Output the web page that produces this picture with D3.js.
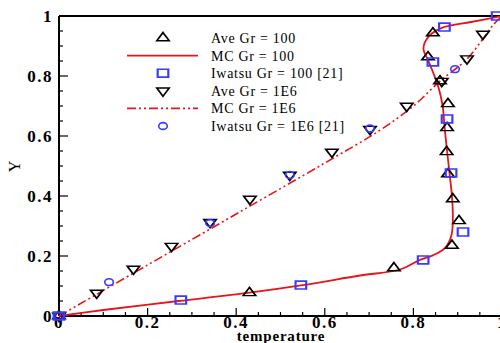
<!DOCTYPE html>
<html>
<head>
<meta charset="utf-8">
<script src="https://cdn.jsdelivr.net/npm/d3@7"></script>
<style>
  body { margin: 0; background: #fff; }
  svg { display: block; }
  .tick-label { font-family: "Liberation Serif", "DejaVu Serif", serif; font-weight: bold; font-size: 17px; letter-spacing: 1.5px; }
  .axis-title { font-family: "Liberation Serif", serif; font-weight: bold; font-size: 15px; letter-spacing: 0.8px; }
  .legend text { font-family: "Liberation Serif", serif; font-size: 14px; letter-spacing: 0.7px; }
</style>
</head>
<body>
<div id="chart"></div>
<script>
// Ave Gr = 100 (up triangles)
var aveGr100T = [0, 0.43, 0.756, 0.887, 0.903, 0.889, 0.878, 0.875, 0.876, 0.878, 0.86, 0.833, 0.844];
var aveGr100Y = [0, 0.077, 0.16, 0.235, 0.317, 0.39, 0.473, 0.547, 0.627, 0.707, 0.783, 0.863, 0.943];

// MC Gr = 100 (solid line)
var mcGr100T = [0, 0.1, 0.27, 0.43, 0.55, 0.68, 0.77, 0.815, 0.845, 0.872, 0.886, 0.889, 0.887, 0.882, 0.876, 0.871, 0.866, 0.857, 0.845, 0.833, 0.823, 0.826, 0.84, 0.867, 0.93, 1];
var mcGr100Y = [0, 0.02, 0.05, 0.078, 0.103, 0.135, 0.155, 0.187, 0.203, 0.228, 0.27, 0.33, 0.4, 0.47, 0.55, 0.62, 0.7, 0.76, 0.81, 0.853, 0.887, 0.913, 0.94, 0.962, 0.98, 1];

// Iwatsu Gr = 100 [21] (squares)
var iwatsu100T = [0, 0.275, 0.546, 0.822, 0.912, 0.885, 0.876, 0.844, 0.87, 0.989];
var iwatsu100Y = [0, 0.053, 0.103, 0.187, 0.28, 0.477, 0.657, 0.847, 0.963, 1];

// Ave Gr = 1E6 (down triangles)
var aveGr1e6T = [0, 0.085, 0.168, 0.254, 0.341, 0.431, 0.521, 0.616, 0.702, 0.785, 0.864, 0.921, 0.957];
var aveGr1e6Y = [0, 0.077, 0.157, 0.233, 0.313, 0.39, 0.47, 0.547, 0.623, 0.70, 0.783, 0.858, 0.94];

// MC Gr = 1E6 (dash-dot-dot line)
var mcGr1e6T = [0, 0.2, 0.4, 0.6, 0.72, 0.8, 0.86, 0.92, 0.955, 0.98, 1];
var mcGr1e6Y = [0, 0.17, 0.34, 0.51, 0.615, 0.70, 0.783, 0.855, 0.92, 0.97, 1];

// Iwatsu Gr = 1E6 [21] (circles)
var iwatsu1e6T = [0, 0.113, 0.341, 0.521, 0.702, 0.894];
var iwatsu1e6Y = [0, 0.113, 0.31, 0.47, 0.625, 0.823];

var xTicks = [0, 0.2, 0.4, 0.6, 0.8, 1];
var yTicks = [0, 0.2, 0.4, 0.6, 0.8, 1];
var legendLabels = ["Ave Gr = 100", "MC Gr = 100", "Iwatsu Gr = 100 [21]",
                    "Ave Gr = 1E6", "MC Gr = 1E6", "Iwatsu Gr = 1E6 [21]"];

function zip(a, b) {
  return a.map(function (d, i) { return [d, b[i]]; });
}

(function () {
  "use strict";

  var width = 500, height = 343;
  var red = "#e8141b", blue = "#3a3aff";

  var x = d3.scaleLinear().domain([0, 1]).range([59, 502]);
  var y = d3.scaleLinear().domain([0, 1]).range([316, 16]);

  var svg = d3.select("#chart").append("svg")
    .attr("width", width)
    .attr("height", height);

  // minor ticks every 0.05
  var minor = d3.range(0, 1.0001, 0.05);

  var g = svg.append("g");

  g.selectAll(".xminor").data(minor).enter().append("line")
    .attr("x1", function (d) { return x(d); })
    .attr("x2", function (d) { return x(d); })
    .attr("y1", y(0))
    .attr("y2", function (d, i) { return y(0) - (i % 4 === 0 ? 8 : 4); })
    .attr("stroke", "#000").attr("stroke-width", 1.2);

  g.selectAll(".yminor").data(minor).enter().append("line")
    .attr("y1", function (d) { return y(d); })
    .attr("y2", function (d) { return y(d); })
    .attr("x1", x(0))
    .attr("x2", function (d, i) { return x(0) + (i % 4 === 0 ? 9 : 4); })
    .attr("stroke", "#000").attr("stroke-width", 1.2);

  // frame (left, bottom, top, right)
  g.append("line").attr("x1", x(0)).attr("x2", x(0)).attr("y1", y(0)).attr("y2", y(1))
    .attr("stroke", "#000").attr("stroke-width", 2);
  g.append("line").attr("x1", x(0)).attr("x2", x(1)).attr("y1", y(0)).attr("y2", y(0))
    .attr("stroke", "#000").attr("stroke-width", 2);
  g.append("line").attr("x1", x(0)).attr("x2", x(1)).attr("y1", y(1)).attr("y2", y(1))
    .attr("stroke", "#000").attr("stroke-width", 2);
  g.append("line").attr("x1", x(1)).attr("x2", x(1)).attr("y1", y(0)).attr("y2", y(1))
    .attr("stroke", "#000").attr("stroke-width", 2);

  // tick labels
  g.selectAll(".xlab").data(xTicks).enter().append("text")
    .attr("class", "tick-label")
    .attr("x", function (d) { return x(d); })
    .attr("y", 328)
    .attr("text-anchor", "middle")
    .text(function (d) { return d3.format("")(d); });

  g.selectAll(".ylab").data(yTicks).enter().append("text")
    .attr("class", "tick-label")
    .attr("x", 53)
    .attr("y", function (d) { return y(d) + 6; })
    .attr("text-anchor", "end")
    .text(function (d) { return d3.format("")(d); });

  g.append("text").attr("class", "axis-title")
    .attr("x", 281).attr("y", 341)
    .attr("text-anchor", "middle")
    .text("temperature");

  g.append("text").attr("class", "axis-title")
    .attr("transform", "translate(20,166) rotate(-90)")
    .attr("text-anchor", "middle")
    .style("font-weight", "normal")
    .style("font-size", "16px")
    .text("Y");

  // lines
  var line = d3.line()
    .x(function (d) { return x(d[0]); })
    .y(function (d) { return y(d[1]); })
    .curve(d3.curveCatmullRom);

  var dashDot = "9,3,2,3,2,3";

  g.append("path").datum(zip(mcGr100T, mcGr100Y))
    .attr("d", line)
    .attr("fill", "none").attr("stroke", red).attr("stroke-width", 1.8);

  g.append("path").datum(zip(mcGr1e6T, mcGr1e6Y))
    .attr("d", line)
    .attr("fill", "none").attr("stroke", red).attr("stroke-width", 1.6)
    .attr("stroke-dasharray", dashDot);

  // markers
  var tri = d3.symbol().type(d3.symbolTriangle).size(60)();
  var sq = d3.symbol().type(d3.symbolSquare).size(62)();

  function triUp(sel) {
    sel.append("path").attr("d", tri)
      .attr("transform", function (d) { return "translate(" + x(d[0]) + "," + y(d[1]) + ") scale(1.05,0.8)"; })
      .attr("fill", "none").attr("stroke", "#000").attr("stroke-width", 1.8);
  }
  function triDown(sel) {
    sel.append("path").attr("d", tri)
      .attr("transform", function (d) { return "translate(" + x(d[0]) + "," + y(d[1]) + ") scale(1.05,-0.8)"; })
      .attr("fill", "none").attr("stroke", "#000").attr("stroke-width", 1.8);
  }
  function square(sel) {
    sel.append("path").attr("d", sq)
      .attr("transform", function (d) { return "translate(" + x(d[0]) + "," + y(d[1]) + ") scale(1.35,1)"; })
      .attr("fill", "none").attr("stroke", blue).attr("stroke-width", 1.6);
  }
  function circle(sel) {
    sel.append("ellipse")
      .attr("cx", function (d) { return x(d[0]); })
      .attr("cy", function (d) { return y(d[1]); })
      .attr("rx", 4.3).attr("ry", 3.4)
      .attr("fill", "none").attr("stroke", blue).attr("stroke-width", 1.6);
  }

  g.append("g").selectAll("g").data(zip(aveGr100T, aveGr100Y)).enter().append("g").call(triUp);
  g.append("g").selectAll("g").data(zip(aveGr1e6T, aveGr1e6Y)).enter().append("g").call(triDown);
  g.append("g").selectAll("g").data(zip(iwatsu100T, iwatsu100Y)).enter().append("g").call(square);
  g.append("g").selectAll("g").data(zip(iwatsu1e6T, iwatsu1e6Y)).enter().append("g").call(circle);

  // legend
  var lg = svg.append("g").attr("class", "legend");
  var rowY = d3.scaleLinear().domain([0, 5]).range([38, 126]);
  var symX = 163;

  lg.selectAll("text").data(legendLabels).enter().append("text")
    .attr("x", 211)
    .attr("y", function (d, i) { return rowY(i) + 5; })
    .text(function (d) { return d; });

  lg.append("path").attr("d", tri)
    .attr("transform", "translate(" + symX + "," + rowY(0) + ") scale(1.05,0.8)")
    .attr("fill", "none").attr("stroke", "#000").attr("stroke-width", 1.8);
  lg.append("line").attr("x1", 127).attr("x2", 198).attr("y1", rowY(1)).attr("y2", rowY(1))
    .attr("stroke", red).attr("stroke-width", 1.8);
  lg.append("path").attr("d", sq)
    .attr("transform", "translate(" + symX + "," + rowY(2) + ") scale(1.35,1)")
    .attr("fill", "none").attr("stroke", blue).attr("stroke-width", 1.6);
  lg.append("path").attr("d", tri)
    .attr("transform", "translate(" + symX + "," + rowY(3) + ") scale(1.05,-0.8)")
    .attr("fill", "none").attr("stroke", "#000").attr("stroke-width", 1.8);
  lg.append("line").attr("x1", 127).attr("x2", 198).attr("y1", rowY(4)).attr("y2", rowY(4))
    .attr("stroke", red).attr("stroke-width", 1.6).attr("stroke-dasharray", dashDot);
  lg.append("ellipse").attr("cx", symX).attr("cy", rowY(5)).attr("rx", 4.3).attr("ry", 3.4)
    .attr("fill", "none").attr("stroke", blue).attr("stroke-width", 1.6);
})();
</script>
</body>
</html>
